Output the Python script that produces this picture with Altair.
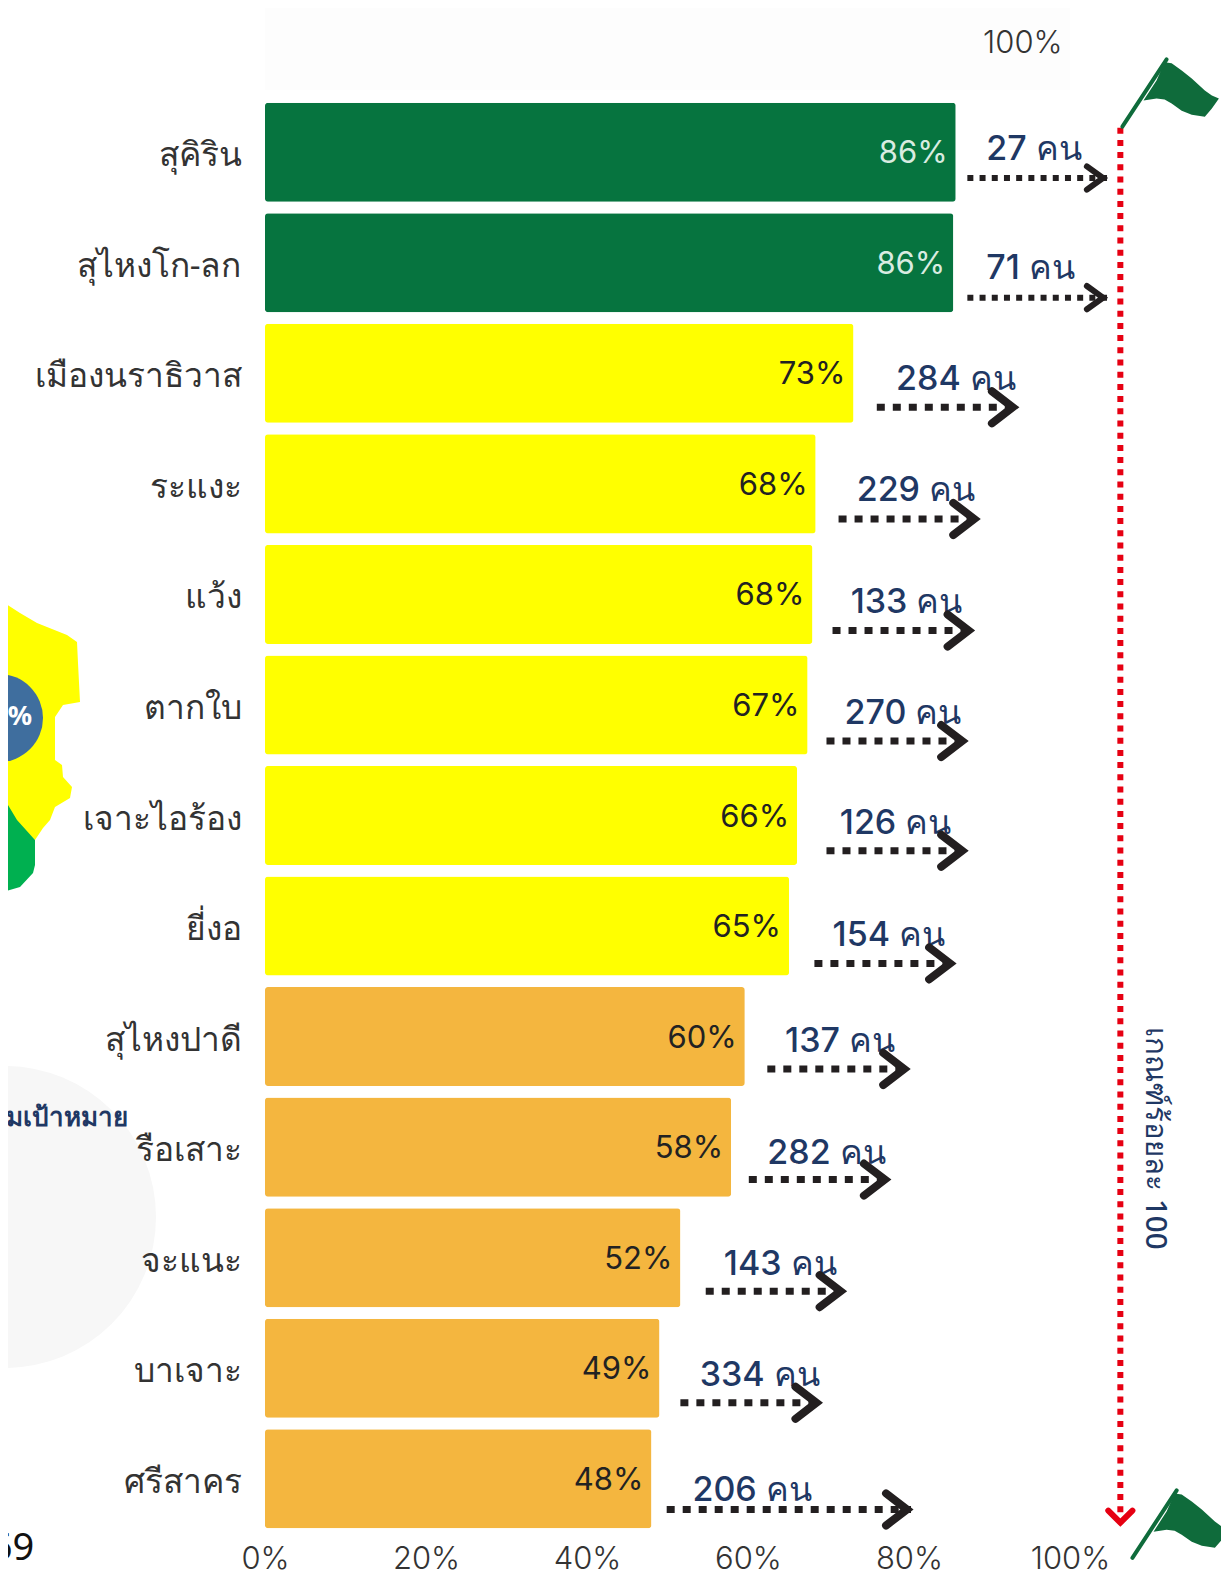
import altair as alt
import pandas as pd

districts = ["สุคิริน", "สุไหงโก-ลก", "เมืองนราธิวาส", "ระแงะ", "แว้ง", "ตากใบ", "เจาะไอร้อง",
             "ยี่งอ", "สุไหงปาดี", "รือเสาะ", "จะแนะ", "บาเจาะ", "ศรีสาคร"]
percent = [85.8, 85.5, 73.1, 68.4, 68.0, 67.4, 66.1, 65.1, 59.6, 57.9, 51.6, 49.0, 48.0]
percent_labels = ["86%", "86%", "73%", "68%", "68%", "67%", "66%", "65%", "60%", "58%", "52%", "49%", "48%"]
levels = ["high", "high"] + ["mid"] * 6 + ["low"] * 5
count_labels = ["27 คน", "71 คน", "284 คน", "229 คน", "133 คน", "270 คน", "126 คน", "154 คน",
                "137 คน", "282 คน", "143 คน", "334 คน", "206 คน"]
# count label position, in % along x and rows along y
count_x = [89.6, 89.6, 78.4, 73.5, 72.75, 72.0, 71.4, 70.5, 64.6, 62.4, 57.0, 54.0, 53.1]
count_y = [0.46, 1.54, 2.54, 3.55, 4.56, 5.56, 6.56, 7.57, 8.53, 9.54, 10.55, 11.55, 12.59]
# arrows, in % along x and rows along y
arrow_from = [87.25, 87.25, 76.0, 71.25, 70.5, 69.75, 69.75, 68.25, 62.4, 60.1, 54.75, 51.6, 49.9]
arrow_to = [104.6, 104.6, 93.4, 88.6, 87.9, 87.1, 87.1, 85.6, 79.9, 77.5, 72.0, 69.0, 80.25]
arrow_y = [0.733, 1.815, 2.807, 3.817, 4.827, 5.827, 6.819, 7.838, 8.793, 9.794, 10.803, 11.813, 12.778]
tick_values = [0, 20, 40, 60, 80, 100]

W, H = 805, 1437
X0, Y0 = 265.0, 97.0
def xu(px):  # full-size reference pixel -> x scale unit
    return (px - X0) / (W / 100)
def yu(px):
    return (px - Y0) / (H / 13)
S = 1.0057

FONT = "Noto Sans"
NUM = "Inter"
NAVY = "#1F3864"
INK = "#231F20"
RED = "#E60012"
FLAG = "#0F6B3B"

xs = alt.Scale(domain=[0, 100], nice=False, zero=False)
ys = alt.Scale(domain=[0, 13], nice=False, zero=False, reverse=True)
band = alt.Scale(domain=districts, paddingInner=0.104, paddingOuter=0.052)
X = alt.X("x:Q", scale=xs, axis=None)
Y = alt.Y("y:Q", scale=ys, axis=None)

df = pd.DataFrame({"d": districts, "p": percent, "lab": percent_labels, "level": levels})
bars = alt.Chart(df).mark_bar(cornerRadius=3).encode(
    x=alt.X("p:Q", scale=xs, axis=alt.Axis(values=tick_values, labelExpr="datum.value + '%'", title=None,
            grid=False, domain=False, ticks=False, labelFontSize=31, labelColor="#333333", labelFont=NUM,
            labelPadding=10, labelFontWeight=300, labelFlush=False, labelOverlap=False, zindex=2)),
    y=alt.Y("d:N", scale=band, sort=None, axis=alt.Axis(title=None, domain=False, ticks=False, labelPadding=24,
            labelFontSize=33.5, labelColor="#333333", labelFont=FONT, labelLimit=300, labelOffset=4, zindex=2)),
    color=alt.Color("level:N", legend=None, scale=alt.Scale(domain=["high", "mid", "low"],
                    range=["#06743F", "#FFFF00", "#F4B63F"])),
)
bar_text = alt.Chart(df).mark_text(align="right", baseline="middle", dx=-8, dy=2, fontSize=31, font=NUM).encode(
    x=alt.X("p:Q", scale=xs, axis=None),
    y=alt.Y("d:N", scale=band, sort=None, axis=None),
    text="lab:N",
    color=alt.condition(alt.datum.level == "high", alt.value("#D9ECE1"), alt.value("#222222")),
)

panel = alt.Chart(pd.DataFrame({"x": [0.0], "x2": [100.0], "y": [yu(0)], "y2": [yu(90)]})).mark_rect(color="#FDFDFD").encode(
    x=X, x2="x2:Q", y=Y, y2="y2:Q")

# left-hand fragments of the map panel
yellow = pd.DataFrame({
    "y": [yu(v) for v in [600, 613, 623, 635, 642, 663, 702, 705, 717, 760, 765, 777, 787, 798, 807, 820, 828, 840]],
    "x": [xu(v) for v in [0, 20, 37, 67, 77, 78, 80, 63, 55, 55, 62, 63, 72, 70, 55, 50, 43, 35]],
    "x2": [xu(v) for v in [0, 0, 0, 0, 0, 0, 0, 0, 0, 0, 0, 0, 0, 0, 3, 12, 22, 35]],
})
green = pd.DataFrame({
    "y": [yu(v) for v in [788, 805, 820, 840, 865, 873, 887, 893]],
    "x": [xu(v) for v in [0, 8, 17, 35, 35, 33, 20, 0]],
    "x2": [xu(0)] * 8,
})
yellow_l = alt.Chart(yellow).mark_area(orient="horizontal", color="#FFFF00").encode(x=X, x2="x2:Q", y=Y)
green_l = alt.Chart(green).mark_area(orient="horizontal", color="#00B050").encode(x=X, x2="x2:Q", y=Y)
blue = alt.Chart(pd.DataFrame({"x": [xu(-1)], "y": [yu(718)]})).mark_point(filled=True, size=7744, opacity=1, color="#3F6E9E").encode(x=X, y=Y)
grey = alt.Chart(pd.DataFrame({"x": [xu(5)], "y": [yu(1217)]})).mark_point(filled=True, size=91204, opacity=1, color="#F7F7F7").encode(x=X, y=Y)

def label(text, px, py, font=FONT, **kw):
    return alt.Chart(pd.DataFrame({"x": [xu(px)], "y": [yu(py)], "t": [text]})).mark_text(baseline="middle", font=font, **kw).encode(
        x=X, y=Y, text="t:N")

pct67 = label("67%", 32, 717, align="right", fontSize=27, fontWeight="bold", color="white")
target = label("กลุ่มเป้าหมาย", 127 * S, 1112 * S, align="right", fontSize=26, fontWeight="bold", color=NAVY)
year = label("69", 34 * S, 1540 * S, align="right", fontSize=38, color="#111111")
top100 = label("100%", 1017 * S, 44 * S, font=NUM, align="center", fontSize=31, fontWeight=300, color="#333333")
criterion = label("เกณฑ์ร้อยละ 100", 1148 * S, 1132 * S, align="center", fontSize=29.5, angle=90, fontWeight=500, color=NAVY)

counts = alt.Chart(pd.DataFrame({"x": count_x, "y": count_y, "t": count_labels})).mark_text(
    align="left", baseline="middle", font=NUM, fontSize=34, dy=2, fontWeight=500, color=NAVY).encode(x=X, y=Y, text="t:N")

# dotted arrows
arrows = pd.DataFrame({"x": arrow_from, "x2": arrow_to, "y": arrow_y, "big": [False, False] + [True] * 11})
def dotted(big):
    d = arrows[arrows.big == big]
    return alt.Chart(d).mark_rule(color=INK, strokeWidth=7 if big else 6,
                                  strokeDash=[8, 8] if big else [6, 6.2]).encode(x=X, x2="x2:Q", y=Y)
pts = []
for i, (t, yy, big) in enumerate(zip(arrow_to, arrow_y, arrows.big)):
    dx, dy = (2.6, 0.145) if big else (2.0, 0.105)
    inset = 0.5
    pts += [{"g": i, "o": 0, "big": big, "x": t - inset - dx, "y": yy - dy},
            {"g": i, "o": 1, "big": big, "x": t - inset, "y": yy},
            {"g": i, "o": 2, "big": big, "x": t - inset - dx, "y": yy + dy}]
pts = pd.DataFrame(pts)
def chevron(big):
    return alt.Chart(pts[pts.big == big]).mark_line(color=INK, strokeWidth=8 if big else 6, strokeCap="round").encode(
        x=X, y=Y, detail="g:N", order="o:Q")

# red criterion line
red_x = xu(1114 * S)
red_line = alt.Chart(pd.DataFrame({"x": [red_x], "y": [yu(127 * S)], "y2": [yu(1505 * S)]})).mark_rule(
    color=RED, strokeWidth=6, strokeDash=[6, 6.2]).encode(x=X, y=Y, y2="y2:Q")
red_head = alt.Chart(pd.DataFrame({"x": [xu(1102 * S), red_x, xu(1126 * S)], "y": [yu(1502 * S), yu(1514 * S), yu(1502 * S)], "o": [0, 1, 2]})).mark_line(
    color=RED, strokeWidth=6, strokeCap="round").encode(x=X, y=Y, order="o:Q")

# flags
flag_x = [1137, 1150, 1158, 1165, 1175, 1185, 1198, 1205, 1212]
flag_t = [100, 80, 62, 63, 70, 78, 90, 95, 98]
flag_b = [100, 98, 99, 103, 110, 114, 116, 108, 98]
def flag(ox, oy):
    body = pd.DataFrame({"x": [xu((v + ox) * S) for v in flag_x],
                         "y": [yu((v + oy) * S) for v in flag_t],
                         "y2": [yu((v + oy) * S) for v in flag_b]})
    pole = pd.DataFrame({"x": [xu((1116 + ox) * S), xu((1160 + ox) * S)], "y": [yu((126 + oy) * S), yu((59 + oy) * S)]})
    return [alt.Chart(body).mark_area(color=FLAG).encode(x=X, y=Y, y2="y2:Q"),
            alt.Chart(pole).mark_line(color=FLAG, strokeWidth=4, strokeCap="round").encode(x=X, y=Y)]

layers = [bars, panel, grey, yellow_l, green_l, blue, bar_text, pct67, target, year, top100, criterion, counts,
          dotted(False), dotted(True), chevron(False), chevron(True), red_line, red_head] + flag(0, 0) + flag(10, 1423)

chart = alt.layer(*layers).resolve_scale(y="independent").resolve_axis(x="independent").properties(
    width=W, height=H,
    autosize=alt.AutoSizeParams(type="none"),
    padding={"left": 257, "top": 89, "right": 151, "bottom": 43},
    background="white",
).configure_view(stroke=None)

chart.save("out.html", embed_options={"renderer": "svg", "actions": False})
